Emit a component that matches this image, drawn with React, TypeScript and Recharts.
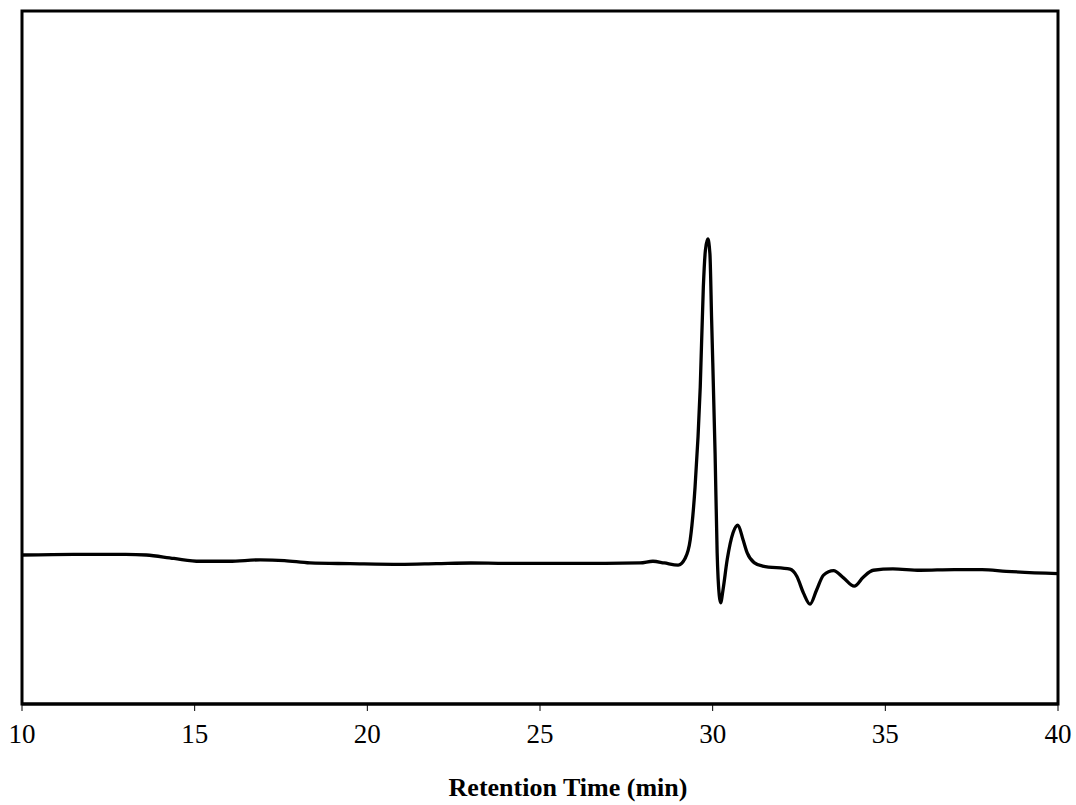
import { LineChart, Line, XAxis, YAxis, ReferenceArea } from "recharts";

// retention time (min) and detector signal (arbitrary units, 0-100 of plot height)
const times = [
  10.0, 11.5, 13.0, 13.6, 14.4, 15.15, 16.0, 16.9, 17.6, 18.34, 19.5, 20.95,
  22.0, 23.0, 24.0, 25.0, 26.5, 27.9, 28.27, 28.6, 29.0, 29.2, 29.35, 29.49,
  29.64, 29.73, 29.79, 29.86, 29.92, 29.97, 30.07, 30.13, 30.19, 30.23, 30.3,
  30.42, 30.59, 30.73, 30.88, 31.0, 31.2, 31.45, 32.24, 32.44, 32.63, 32.82,
  33.01, 33.21, 33.5, 33.79, 34.1, 34.36, 34.65, 35.22, 36.0, 37.0, 37.8,
  38.5, 40.0,
];
const signal = [
  21.5, 21.6, 21.6, 21.5, 21.0, 20.6, 20.6, 20.8, 20.7, 20.35, 20.25, 20.15,
  20.25, 20.35, 20.3, 20.3, 20.3, 20.35, 20.6, 20.35, 20.05, 21.0, 23.7, 31.3,
  45.7, 60.2, 65.5, 67.1, 65.0, 55.4, 36.2, 21.8, 15.7, 14.6, 16.5,
  20.8, 24.7, 25.8, 23.7, 21.8, 20.4, 19.9, 19.45, 18.4, 16.0, 14.4,
  16.45, 18.6, 19.25, 18.2, 17.0, 18.3, 19.3, 19.5, 19.3, 19.4, 19.4,
  19.15, 18.8,
];
const xTicks = [10, 15, 20, 25, 30, 35, 40];

const data = times.map((t, i) => ({ t, v: signal[i] }));

const FONT = '"Liberation Serif", "Times New Roman", serif';

export default function App() {
  return (
    <div
      style={{
        position: "absolute",
        left: 0,
        top: 0,
        background: "#fff",
        fontFamily: FONT,
      }}
    >
      <LineChart
        width={1076}
        height={805}
        data={data}
        margin={{ top: 11, right: 18, left: 22, bottom: 0 }}
        style={{ fontFamily: FONT }}
      >
        <XAxis
          dataKey="t"
          type="number"
          domain={[10, 40]}
          ticks={xTicks}
          allowDataOverflow
          stroke="#000"
          strokeWidth={3}
          tickSize={7}
          tickMargin={13}
          tickLine={{ stroke: "#000", strokeWidth: 1 }}
          tick={{ fill: "#000", fontSize: 27, fontFamily: FONT }}
          height={101}
          label={{
            value: "Retention Time (min)",
            position: "insideBottom",
            offset: 9,
            dx: 28,
            fill: "#000",
            fontSize: 26,
            fontWeight: "bold",
            fontFamily: FONT,
          }}
        />
        <YAxis domain={[0, 100]} hide />
        {/* plot frame */}
        <ReferenceArea
          x1={10}
          x2={40}
          y1={0}
          y2={100}
          fill="none"
          stroke="#000"
          strokeWidth={3}
          ifOverflow="visible"
        />
        <Line
          dataKey="v"
          type="monotone"
          stroke="#000"
          strokeWidth={3.3}
          dot={false}
          isAnimationActive={false}
        />
      </LineChart>
    </div>
  );
}
